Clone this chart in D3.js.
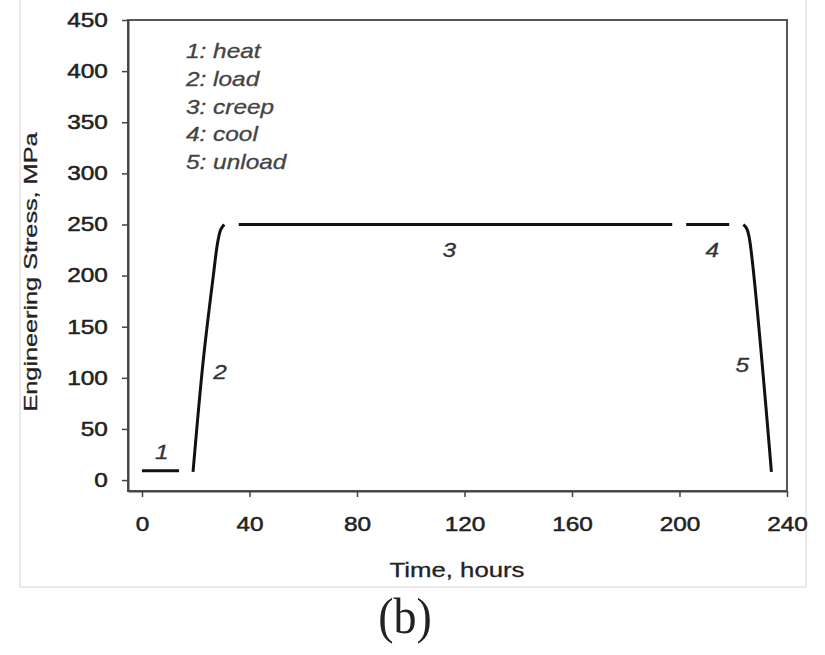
<!DOCTYPE html>
<html>
<head>
<meta charset="utf-8">
<script src="https://cdn.jsdelivr.net/npm/d3@7/dist/d3.min.js"></script>
<style>
  html, body { margin: 0; padding: 0; background: #fff; }
  svg { display: block; }
</style>
</head>
<body>
<svg id="chart" width="825" height="655"></svg>
<script>
// ---- data (time in hours, stress in MPa) ----
const heatSeg   = [[0, 9], [13.8, 9]];
const loadSeg   = [[19, 8], [22.8, 117], [26.5, 199], [28.2, 233], [29.3, 245], [30.6, 250]];
const creepSeg  = [[36, 250], [197.3, 250]];
const coolSeg   = [[202.5, 250], [218.5, 250]];
const unloadSeg = [[223.8, 250], [225, 246], [225.9, 238], [234.2, 8]];

const segLabels    = ["1", "2", "3", "4", "5"];
const segLabelPos  = [[7.4, 27.5], [29, 105], [114.3, 225], [212.2, 225], [223.4, 112.5]];

const legendLabels = ["1: heat", "2: load", "3: creep", "4: cool", "5: unload"];

const xTicks = [0, 40, 80, 120, 160, 200, 240];
const yTicks = [0, 50, 100, 150, 200, 250, 300, 350, 400, 450];

const xTitle = "Time, hours";
const yTitle = "Engineering Stress, MPa";
const panelLabel = "(b)";

// ---- layout ----
const svg = d3.select("#chart");
const L = 128, R = 787, T = 20, B = 491;
const x = d3.scaleLinear().domain([-5.2, 240]).range([L, R]);
const y = d3.scaleLinear().domain([-10.7, 450]).range([B, T]);
const SX = 1.22; // horizontal text stretch

// figure border
svg.append("rect").attr("x", 20).attr("y", -2).attr("width", 786).attr("height", 589)
  .attr("fill", "none").attr("stroke", "#e2e2e2").attr("stroke-width", 1.5);

// frame (top/right)
svg.append("rect").attr("x", L).attr("y", T).attr("width", R - L).attr("height", B - T)
  .attr("fill", "none").attr("stroke", "#555").attr("stroke-width", 2);

// axes
const gx = svg.append("g").attr("transform", `translate(0,${B})`)
  .call(d3.axisBottom(x).tickValues(xTicks).tickSize(6).tickSizeOuter(0).tickPadding(20));
const gy = svg.append("g").attr("transform", `translate(${L},0)`)
  .call(d3.axisLeft(y).tickValues(yTicks).tickSize(6).tickSizeOuter(0).tickPadding(10.5));

[gx, gy].forEach(g => {
  g.select(".domain").attr("stroke", "#444").attr("stroke-width", 2);
  g.selectAll(".tick line").attr("stroke", "#444").attr("stroke-width", 1.5);
  g.selectAll(".tick text")
    .attr("font-family", "'Liberation Sans', Arial, sans-serif")
    .attr("font-size", 20).attr("fill", "#222")
    .attr("stroke", "#222").attr("stroke-width", 0.5)
    .attr("transform", `scale(${SX},1)`);
});

// data lines
const lineStraight = d3.line().x(d => x(d[0])).y(d => y(d[1]));
const lineCurved = d3.line().x(d => x(d[0])).y(d => y(d[1])).curve(d3.curveCatmullRom);
const segs = [heatSeg, loadSeg, creepSeg, coolSeg, unloadSeg];
segs.forEach((s, i) => {
  svg.append("path").datum(s)
    .attr("d", (i === 1 || i === 4) ? lineCurved : lineStraight)
    .attr("fill", "none").attr("stroke", "#111").attr("stroke-width", 3)
    .attr("stroke-linecap", "butt").attr("stroke-linejoin", "round");
});

// segment labels
segLabels.forEach((t, i) => {
  const p = segLabelPos[i];
  svg.append("text")
    .attr("transform", `translate(${x(p[0])},${y(p[1])}) scale(${SX},1)`)
    .attr("text-anchor", "middle").attr("dominant-baseline", "central")
    .attr("font-family", "'Liberation Sans', Arial, sans-serif")
    .attr("font-style", "italic").attr("font-size", 20).attr("fill", "#333")
    .attr("stroke", "#333").attr("stroke-width", 0.3)
    .text(t);
});

// legend text
legendLabels.forEach((t, i) => {
  svg.append("text")
    .attr("transform", `translate(186,${58 + i * 27.8}) scale(${SX},1)`)
    .attr("font-family", "'Liberation Sans', Arial, sans-serif")
    .attr("font-style", "italic").attr("font-size", 20).attr("fill", "#444")
    .attr("stroke", "#444").attr("stroke-width", 0.3)
    .text(t);
});

// axis titles
svg.append("text")
  .attr("x", 457).attr("y", 577)
  .attr("text-anchor", "middle")
  .attr("font-family", "'Liberation Sans', Arial, sans-serif")
  .attr("font-size", 21).attr("fill", "#222")
  .attr("stroke", "#222").attr("stroke-width", 0.3)
  .attr("textLength", 135).attr("lengthAdjust", "spacingAndGlyphs")
  .text(xTitle);

svg.append("text")
  .attr("transform", "translate(37,272) rotate(-90)")
  .attr("text-anchor", "middle")
  .attr("font-family", "'Liberation Sans', Arial, sans-serif")
  .attr("font-size", 19).attr("fill", "#222")
  .attr("stroke", "#222").attr("stroke-width", 0.3)
  .attr("textLength", 279).attr("lengthAdjust", "spacingAndGlyphs")
  .text(yTitle);

// panel label
svg.append("text")
  .attr("transform", "translate(405,633) scale(1,1.1)")
  .attr("text-anchor", "middle")
  .attr("font-family", "'Liberation Serif', 'Times New Roman', serif")
  .attr("font-size", 46).attr("fill", "#222")
  .text(panelLabel);
</script>
</body>
</html>
